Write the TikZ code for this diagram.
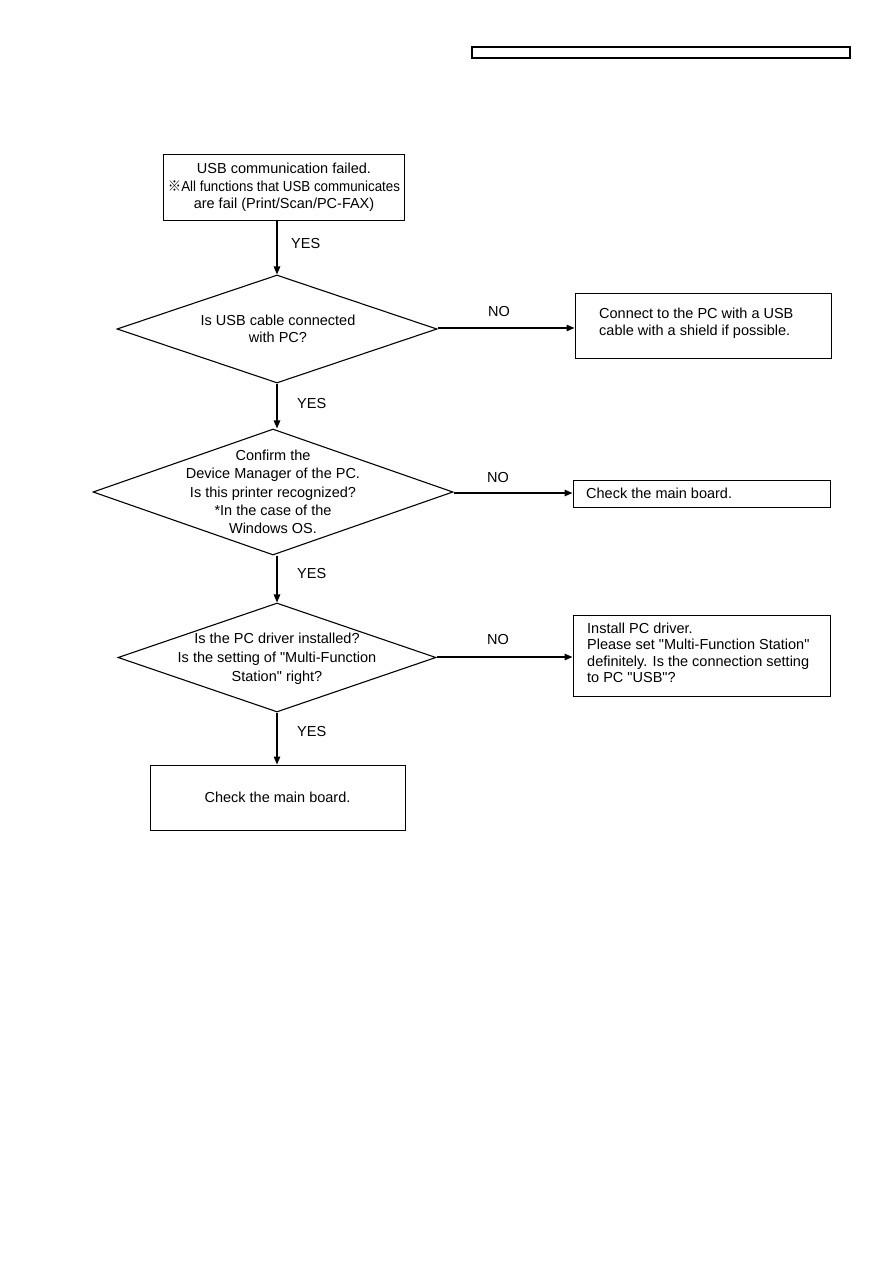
\documentclass[tikz,border=0pt]{standalone}
\usepackage{fontspec}
\setmainfont{Liberation Sans}
\newfontfamily\cjkfont{Noto Sans CJK JP}
\usetikzlibrary{shapes.geometric,arrows.meta}
\tikzset{
  box/.style={draw, line width=1pt, inner sep=0pt},
  dia/.style={draw, diamond, line width=1.1pt, inner sep=0pt},
  txt/.style={inner sep=0pt, align=center},
  ltxt/.style={inner sep=0pt, align=left, anchor=west},
  arr/.style={line width=1.3pt, -{Triangle[length=8pt,width=6.5pt]}},
  lbl/.style={inner sep=0pt, anchor=west},
}
\begin{document}
\begin{tikzpicture}[x=1pt,y=-1pt,font=\fontsize{14.5}{17.5}\selectfont]
\useasboundingbox[fill=white] (0,0) rectangle (893,1263);
% header bar
\node[box, line width=1.4pt, minimum width=378pt, minimum height=11pt] (hdr) at (661,52.5) {};
% start
\node[box, minimum width=241pt, minimum height=66pt] (start) at (283.5,187) {};
\node[txt] (startt) at (284,187.5)
  {USB communication failed.\\\scalebox{0.92}[1]{{\cjkfont ※}All functions that USB communicates}\\are fail (Print/Scan/PC-FAX)};
% diamonds
\node[dia, minimum width=320pt, minimum height=108pt] (d1) at (277,329) {};
\node[txt] (d1t) at (278,329) {Is USB cable connected\\with PC?};
\node[dia, minimum width=360pt, minimum height=126pt] (d2) at (273,492) {};
\node[txt,font=\fontsize{14.5}{18.2}\selectfont] (d2t) at (273,492) {Confirm the\\Device Manager of the PC.\\Is this printer recognized?\\*In the case of the\\Windows OS.};
\node[dia, minimum width=318pt, minimum height=109pt] (d3) at (277,657.5) {};
\node[txt,font=\fontsize{14.5}{19}\selectfont] (d3t) at (277,659) {Is the PC driver installed?\\Is the setting of \textquotedbl Multi-Function\\Station\textquotedbl\ right?};
% right boxes
\node[box, minimum width=256pt, minimum height=65pt] (b2) at (703,325.5) {};
\node[ltxt] (b2t) at (599,323) {Connect to the PC with a USB\\cable with a shield if possible.};
\node[box, minimum width=257pt, minimum height=27pt] (b3) at (701.5,493.5) {};
\node[ltxt] (b3t) at (586,493.5) {Check the main board.};
\node[box, minimum width=257pt, minimum height=81pt] (b4) at (701.5,655.5) {};
\node[ltxt, font=\fontsize{14.5}{16.5}\selectfont] (b4t) at (587,653) {Install PC driver.\\Please set \textquotedbl Multi-Function Station\textquotedbl\\definitely. Is the connection setting\\to PC \textquotedbl USB\textquotedbl?};
% final box
\node[box, minimum width=255pt, minimum height=65pt] (b5) at (277.5,797.5) {Check the main board.};
% connectors
\draw[arr] (d1.north |- start.south) -- (d1.north);
\draw[arr] (d1.south) -- (d2.north -| d1.south);
\draw[arr] (d2.south -| d1.south) -- (d3.north);
\draw[arr] (d3.south) -- (b5.north -| d3.south);
\draw[arr] (d1.east) ++(0,-1) -- (b2.west |- 0,328);
\draw[arr] (d2.east) ++(0,1) -- (b3.west |- 0,493);
\draw[arr] (d3.east) ++(0,-0.5) -- (b4.west |- 0,657);
% labels
\node[lbl] (y1) at (291,244) {YES};
\node[lbl] (y2) at (297,404) {YES};
\node[lbl] (y3) at (297,574) {YES};
\node[lbl] (y4) at (297,731) {YES};
\node[lbl] (n1) at (488,312) {NO};
\node[lbl] (n2) at (487,478) {NO};
\node[lbl] (n3) at (487,640) {NO};
\end{tikzpicture}
\end{document}
